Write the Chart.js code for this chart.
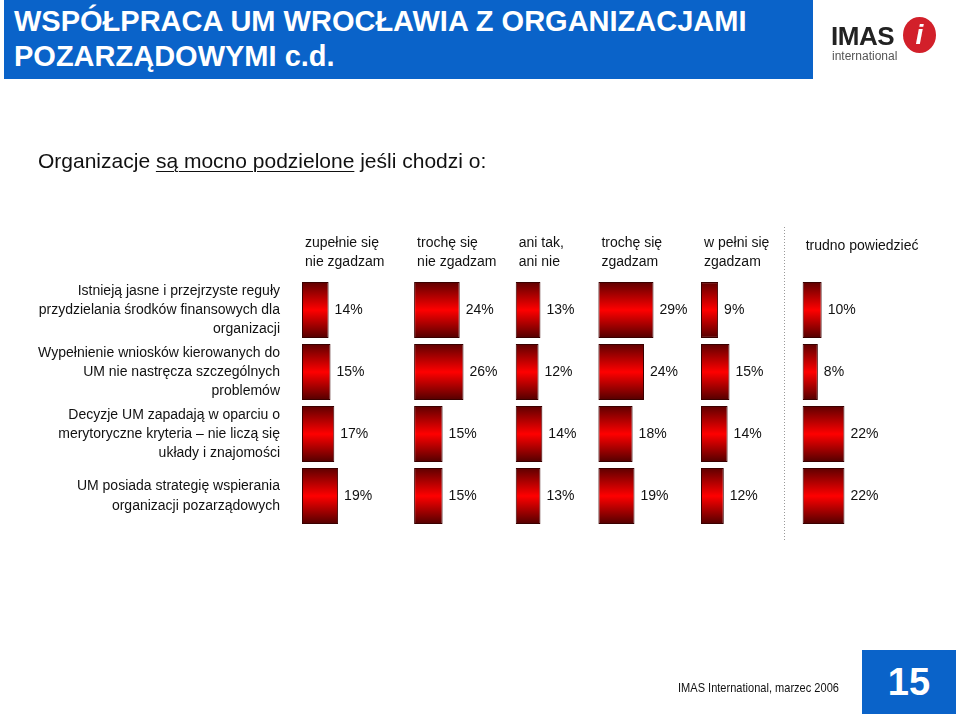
<!DOCTYPE html>
<html lang="pl">
<head>
<meta charset="utf-8">
<title>Współpraca UM Wrocławia z organizacjami pozarządowymi</title>
<script src="https://cdn.jsdelivr.net/npm/chart.js@4.4.1/dist/chart.umd.min.js"></script>
<style>
  body { margin: 0; background: #fff; font-family: Arial, "Liberation Sans", sans-serif; }
  #page { position: relative; width: 960px; height: 716px; overflow: hidden; }
  #chart { position: absolute; left: 0; top: 0; }
  .title {
    position: absolute; left: 4px; top: 0; width: 809px; height: 79px; padding-left: 10px;
    background: #0a63c9; color: #fff; font-weight: bold; font-size: 29px; line-height: 35px;
    padding-top: 4px; box-sizing: border-box;
  }
  .logo-text { position: absolute; left: 831px; top: 21px; font-weight: bold; font-size: 26px; color: #222; letter-spacing: -0.5px; }
  .logo-sub { position: absolute; left: 832px; top: 49px; font-size: 12px; color: #555; }
  .logo-i {
    position: absolute; left: 903px; top: 17px; width: 33px; height: 36px; border-radius: 50%;
    background: #d2202a; color: #fff; font: italic bold 28px Arial, sans-serif; text-align: center; line-height: 36px;
  }
  .subtitle { position: absolute; left: 38px; top: 149px; font-size: 21px; color: #111; }
  .subtitle u { text-decoration-thickness: 1px; text-underline-offset: 3px; }
  .footer { position: absolute; left: 678px; top: 680px; font-size: 13px; color: #111; transform: scaleX(0.85); transform-origin: left center; }
  .pagenum {
    position: absolute; left: 862px; top: 650px; width: 94px; height: 64px; background: #0a63c9;
    color: #fff; font-weight: bold; font-size: 38px; line-height: 64px; text-align: center;
  }
</style>
</head>
<body>
<div id="page">
  <canvas id="chart" width="960" height="716"></canvas>
  <div class="title">WSPÓŁPRACA UM WROCŁAWIA Z ORGANIZACJAMI<br>POZARZĄDOWYMI c.d.</div>
  <div class="logo-text">IMAS</div>
  <div class="logo-sub">international</div>
  <div class="logo-i">i</div>
  <div class="subtitle">Organizacje <u>są mocno podzielone</u> jeśli chodzi o:</div>
  <div class="footer">IMAS International, marzec 2006</div>
  <div class="pagenum">15</div>
</div>
<script>
// statements (rows)
const statements = [
  ["Istnieją jasne i przejrzyste reguły", "przydzielania środków finansowych dla", "organizacji"],
  ["Wypełnienie wniosków kierowanych do", "UM nie nastręcza szczególnych", "problemów"],
  ["Decyzje UM zapadają w oparciu o", "merytoryczne kryteria – nie liczą się", "układy i znajomości"],
  ["UM posiada strategię wspierania", "organizacji pozarządowych"],
];

// answer columns
const answers = [
  ["zupełnie się", "nie zgadzam"],
  ["trochę się", "nie zgadzam"],
  ["ani tak,", "ani nie"],
  ["trochę się", "zgadzam"],
  ["w pełni się", "zgadzam"],
  ["trudno powiedzieć"],
];

// % per answer, one value per statement
const zupelnieNie = [14, 15, 17, 19];
const trocheNie   = [24, 26, 15, 15];
const aniTakAniNie = [13, 12, 14, 13];
const trocheTak   = [29, 24, 18, 19];
const wPelniTak   = [9, 15, 14, 12];
const trudno      = [10, 8, 22, 22];
const series = [zupelnieNie, trocheNie, aniTakAniNie, trocheTak, wPelniTak, trudno];

// layout: where each column starts on the x scale (in % units) and the dotted separator
const colStart = [0, 59, 112.5, 156, 210, 263.5];
const separatorAt = 253.5;

function barGradient(c) {
  const chart = c.chart;
  const y = chart.scales.y;
  if (!y || c.dataIndex === undefined) return "#e00000";
  const yc = y.getPixelForValue(c.dataIndex);
  if (!isFinite(yc)) return "#e00000";
  const g = chart.ctx.createLinearGradient(0, yc - 28, 0, yc + 28);
  g.addColorStop(0, "#5e0000");
  g.addColorStop(0.5, "#ff0000");
  g.addColorStop(1, "#520000");
  return g;
}

const cellText = {
  id: "cellText",
  afterDatasetsDraw(chart) {
    const { ctx, chartArea } = chart;
    const x = chart.scales.x;
    ctx.save();
    ctx.font = '14px Arial, "Liberation Sans", sans-serif';
    ctx.fillStyle = "#111";
    ctx.textBaseline = "middle";
    ctx.textAlign = "left";
    series.forEach((vals, i) => {
      chart.getDatasetMeta(i).data.forEach((bar, j) => {
        ctx.fillText(vals[j] + "%", bar.x + 6, bar.y);
      });
    });

    // column headers
    answers.forEach((lines, i) => {
      const hx = x.getPixelForValue(colStart[i]) + 3;
      if (lines.length === 1) {
        ctx.fillText(lines[0], hx, chartArea.top - 33);
      } else {
        ctx.fillText(lines[0], hx, chartArea.top - 36);
        ctx.fillText(lines[1], hx, chartArea.top - 17);
      }
    });

    // dotted separator before "trudno powiedzieć"
    const sx = Math.round(x.getPixelForValue(separatorAt)) + 0.5;
    ctx.strokeStyle = "#999";
    ctx.lineWidth = 1;
    ctx.setLineDash([1, 2]);
    ctx.beginPath();
    ctx.moveTo(sx, chartArea.top - 52);
    ctx.lineTo(sx, chartArea.bottom + 13);
    ctx.stroke();
    ctx.restore();
  },
};

const chart = new Chart(document.getElementById("chart").getContext("2d"), {
  type: "bar",
  data: {
    labels: statements,
    datasets: series.map((vals, i) => ({
      data: vals.map((v) => [colStart[i], colStart[i] + v]),
      backgroundColor: barGradient,
      borderColor: "#3a0000",
      borderWidth: 1,
      borderSkipped: false,
      grouped: false,
      barPercentage: 0.9,
      categoryPercentage: 1,
    })),
  },
  options: {
    indexAxis: "y",
    responsive: false,
    animation: false,
    layout: { padding: { top: 279, bottom: 189, right: 31, left: 0 } },
    plugins: { legend: { display: false }, tooltip: { enabled: false } },
    scales: {
      x: { type: "linear", min: 0, max: 330, display: false },
      y: {
        type: "category",
        grid: { display: false },
        border: { display: false },
        afterFit: (s) => { s.width = 302; },
        ticks: {
          padding: 14,
          color: "#111",
          font: { family: 'Arial, "Liberation Sans", sans-serif', size: 14, lineHeight: 1.38 },
        },
      },
    },
  },
  plugins: [cellText],
});
// second pass so the gradients use laid-out scales
chart.update("none");
</script>
</body>
</html>
